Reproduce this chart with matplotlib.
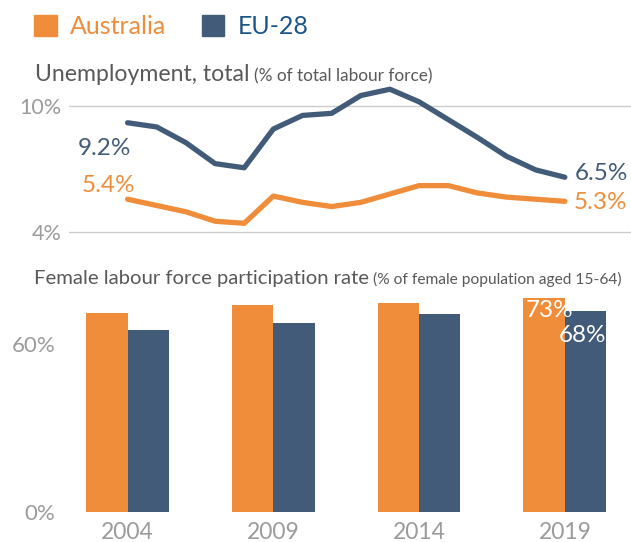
import matplotlib
matplotlib.use('Agg')
import matplotlib.pyplot as plt
from matplotlib.patches import Patch

# unemployment, % of total labour force
years = list(range(2004, 2020))
unemp_aus = [5.55, 5.25, 4.95, 4.5, 4.4, 5.7, 5.4, 5.2, 5.4, 5.8, 6.2, 6.2, 5.85, 5.65, 5.55, 5.45]
unemp_eu = [9.2, 9.0, 8.25, 7.25, 7.05, 8.9, 9.55, 9.65, 10.5, 10.8, 10.2, 9.35, 8.5, 7.6, 6.95, 6.6]
unemp_labels_aus = ['5.4%', '5.3%']
unemp_labels_eu = ['9.2%', '6.5%']

# female labour force participation, % of female population 15-64
bar_years = [2004, 2009, 2014, 2019]
flfp_aus = [67.7, 70.7, 71.3, 73.0]
flfp_eu = [62.0, 64.4, 67.4, 68.5]
bar_labels = ['73%', '68%']

orange = '#EF8D3A'
navy = '#425B78'
eu_text = '#1B5487'
grey = '#9B9B9B'
dark = '#595959'

plt.rcParams['font.family'] = ['Lato', 'DejaVu Sans']

fig = plt.figure(figsize=(6.31, 5.42), dpi=100)
ax1 = fig.add_axes([0.1098, 0.5648, 0.8902, 0.2860])
ax2 = fig.add_axes([0.1098, 0.0559, 0.8902, 0.4054])
xlim = (2002.0, 2021.27)

# --- top: line chart
ax1.plot(years, unemp_aus, color=orange, lw=3.8, solid_joinstyle='round', solid_capstyle='round')
ax1.plot(years, unemp_eu, color=navy, lw=3.8, solid_joinstyle='round', solid_capstyle='round')
ax1.set_xlim(xlim)
ax1.set_ylim(3.8, 11.2)
ax1.set_yticks([4, 10])
ax1.set_yticklabels(['4%', '10%'])
ax1.set_xticks([])
ax1.grid(axis='y', color='#cccccc', lw=1)
ax1.set_axisbelow(True)
ax1.tick_params(axis='y', length=0, pad=5.5, labelsize=15.5, labelcolor=grey)
for s in ax1.spines.values():
    s.set_visible(False)

lab = dict(fontsize=17.5, textcoords='offset points', va='center')
ax1.annotate(unemp_labels_eu[0], xy=(years[0], unemp_eu[0]), xytext=(2.2, -18.3), color=navy, ha='right', **lab)
ax1.annotate(unemp_labels_aus[0], xy=(years[0], unemp_aus[0]), xytext=(5.3, 10), color=orange, ha='right', **lab)
ax1.annotate(unemp_labels_eu[1], xy=(years[-1], unemp_eu[-1]), xytext=(7.2, 2.4), color=navy, ha='left', **lab)
ax1.annotate(unemp_labels_aus[1], xy=(years[-1], unemp_aus[-1]), xytext=(6.7, -0.5), color=orange, ha='left', **lab)

# --- bottom: bars
w = 1.42
ax2.bar([y - w / 2 for y in bar_years], flfp_aus, width=w, color=orange)
ax2.bar([y + w / 2 for y in bar_years], flfp_eu, width=w, color=navy)
ax2.set_xlim(xlim)
ax2.set_ylim(0, 75)
ax2.set_yticks([0, 60])
ax2.set_yticklabels(['0%', '60%'])
ax2.get_yticklabels()[1].set_va('top')
ax2.set_xticks(bar_years)
ax2.set_xticklabels([str(y) for y in bar_years])
ax2.tick_params(axis='y', length=0, pad=10, labelsize=16, labelcolor=grey)
ax2.tick_params(axis='x', length=0, pad=7.5, labelsize=16.5, labelcolor=grey)
for s in ax2.spines.values():
    s.set_visible(False)

ax2.annotate(bar_labels[0], xy=(bar_years[-1] - w / 2, flfp_aus[-1]), xytext=(3.7, -8.9),
             textcoords='offset points', ha='center', va='center', color='white', fontsize=17.5)
ax2.annotate(bar_labels[1], xy=(bar_years[-1] + w, flfp_eu[-1]), xytext=(0, -17.5),
             textcoords='offset points', ha='right', va='center', color='white', fontsize=17.5)

# --- titles
t1 = fig.text(35 / 631, 1 - 80.7 / 542, 'Unemployment, total', fontsize=16.6, color=dark, va='baseline')
ax1.annotate('(% of total labour force)', xy=(1, 0), xycoords=t1, xytext=(3.5, 0),
             textcoords='offset points', fontsize=12.4, color=dark, va='bottom', annotation_clip=False)
t2 = fig.text(34.3 / 631, 1 - 284 / 542, 'Female labour force participation rate', fontsize=14.6, color=dark, va='baseline')
ax2.annotate('(% of female population aged 15-64)', xy=(1, 0), xycoords=t2, xytext=(3, 0),
             textcoords='offset points', fontsize=11.2, color=dark, va='bottom', annotation_clip=False)

# --- legend
leg = fig.legend(handles=[Patch(color=orange, label='Australia'), Patch(color=navy, label='EU-28')],
                 loc='upper left', bbox_to_anchor=(34 / 631, 1 - 15 / 542), ncol=2, frameon=False,
                 fontsize=18, handlelength=0.9, handleheight=0.9, handletextpad=0.55,
                 columnspacing=1.4, borderpad=0, borderaxespad=0)
leg.get_texts()[0].set_color(orange)
leg.get_texts()[1].set_color(eu_text)

fig.savefig('out.png', dpi=100)
